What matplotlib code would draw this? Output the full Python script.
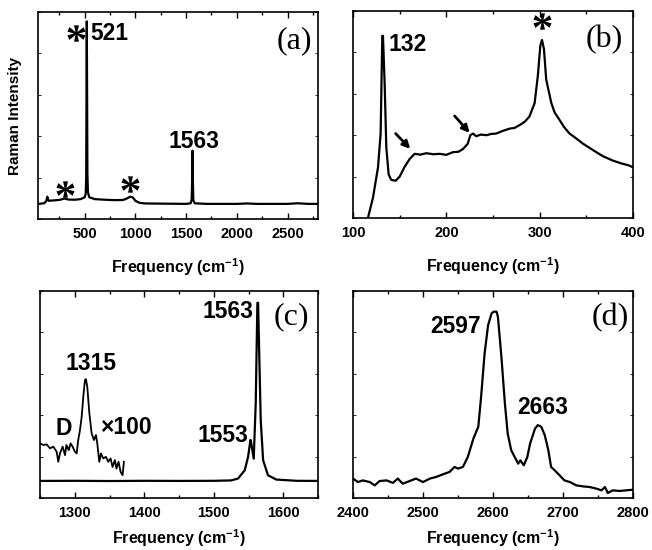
import matplotlib

matplotlib.use("Agg")
import matplotlib.pyplot as plt
from matplotlib.font_manager import FontProperties
from matplotlib.path import Path
from matplotlib.textpath import TextPath
from matplotlib.ticker import MultipleLocator, NullFormatter

plt.rcParams["font.family"] = ["Liberation Sans", "DejaVu Sans"]
plt.rcParams["font.weight"] = "bold"
plt.rcParams["axes.labelweight"] = "bold"
plt.rcParams["mathtext.fontset"] = "custom"
plt.rcParams["mathtext.rm"] = "Liberation Sans:bold"
plt.rcParams["mathtext.default"] = "rm"

# (a) full range spectrum, intensity in % of axis height
freq_a = [40, 100, 120, 132, 145, 200, 260, 300, 340, 400, 460, 500, 510, 515, 518,
          521, 524, 527, 532, 545, 600, 700, 800, 880, 920, 950, 975, 1000, 1040,
          1100, 1300, 1500, 1545, 1555, 1560, 1563, 1566, 1571, 1585, 1700, 2000,
          2100, 2200, 2500, 2600, 2700, 2800]
int_a = [7.3, 7.6, 8.5, 10.8, 8.8, 9.0, 9.3, 9.9, 9.4, 9.3, 9.6, 10.5, 12, 20, 60,
         95.5, 60, 22, 13, 10.5, 9.6, 9.3, 9.1, 9.2, 10.0, 10.8, 10.4, 8.8, 7.8,
         7.5, 7.4, 7.3, 7.6, 9.5, 20, 33, 20, 9, 7.6, 7.3, 7.3,
         7.5, 7.3, 7.3, 7.6, 7.3, 7.3]

# (b) low-frequency region
freq_b = [116, 121.4, 126.8, 129.6, 131.4, 132.1, 133.9, 135.7, 138.2, 141, 145.7,
          150, 155, 160.7, 166, 172, 178.6, 186, 193, 200, 207, 213, 218, 223, 225.7,
          228.6, 232, 237, 243, 248, 253.6, 260, 268, 273, 278.6, 284, 289, 294.6,
          298, 300.7, 302.5, 304.6, 307, 312.5, 316, 321.4, 326, 332, 339, 346.4,
          353, 360.7, 368, 378.6, 388, 395, 400]
int_b = [0, 9.8, 24.5, 40.8, 88, 88, 65, 34, 21, 18.4, 18, 20, 24.5, 28.5, 31,
         30.6, 31.3, 30.8, 31, 30.5, 31.8, 32, 33.4, 35.9, 40, 40.8, 39.5, 40.3, 40,
         40.6, 40.8, 42, 43.2, 43.5, 44.9, 46.5, 49, 55.5, 68.5, 83.2, 86, 81.6,
         66.9, 55.5, 51, 47.3, 44, 40.8, 38.5, 35.9, 34, 31.8, 29.8, 27.7, 26.3,
         25.5, 24.5]

# (c) G band and D band (x100)
freq_c = [1250, 1300, 1350, 1400, 1450, 1500, 1525, 1535, 1544.6, 1549.4, 1552.8,
          1553.2, 1557.5, 1560.4, 1562.8, 1563.8, 1565.2, 1567.6, 1571, 1578,
          1590, 1620, 1650]
int_c = [8.25, 8.3, 8.2, 8.3, 8.25, 8.3, 8.5, 9.4, 13.4, 19.9, 28, 28, 19, 45.8,
         94.3, 94.3, 73.3, 37.7, 18.3, 11, 8.9, 8.3, 8.25]
freq_d_band = [1250, 1254.8, 1259.6, 1264.4, 1269.2, 1274, 1276.3, 1278.7, 1282.6,
               1286, 1288, 1291.4, 1294, 1296.9, 1300.3, 1302.7, 1305, 1307.5,
               1310, 1312.3, 1314.7, 1316, 1318, 1321, 1324.3, 1327.6, 1330.5,
               1332.4, 1335.3, 1337.7, 1341, 1344.8, 1348.2, 1351.6, 1354.4,
               1357.8, 1360, 1363, 1366, 1368.8, 1370.7]
int_d_band = [26.4, 25.6, 25.9, 24, 24.8, 22.3, 17.5, 21.5, 24.8, 20.7, 25.6, 23.1,
              26.4, 24.8, 22.3, 21.5, 28, 32.8, 39.3, 49, 57, 57.4, 53.9, 41, 31.2,
              28, 30.4, 26.4, 17.5, 21.5, 19.1, 19.9, 17.5, 19.1, 15, 18.3, 14.2,
              17.5, 12.6, 11, 17.5]

# (d) 2D band region
freq_d = [2400, 2407, 2414, 2424, 2431, 2438, 2448, 2457, 2464, 2471, 2481, 2490,
          2500, 2510, 2519, 2529, 2538, 2545, 2550, 2557, 2564, 2572, 2579, 2583,
          2588, 2593, 2598, 2601, 2605, 2607, 2612, 2617, 2621, 2626, 2631, 2636,
          2639, 2644, 2649, 2653, 2660, 2664, 2669, 2674, 2679, 2683, 2688, 2695,
          2702, 2710, 2719, 2729, 2738, 2748, 2755, 2760, 2764, 2771, 2781, 2790,
          2800]
int_d = [9.4, 7.7, 8.5, 7.7, 6.1, 8.2, 8.5, 7.3, 9.4, 6.9, 8.2, 9.4, 7.7, 9.4,
         10.2, 11.5, 12.6, 15, 14.2, 15, 19.8, 28.7, 34.4, 48.9, 69.8, 83.5, 89.2,
         90, 90, 87.6, 68.2, 45.6, 31.1, 23.1, 19.8, 16.6, 18.2, 15.8, 19.8, 26.3,
         33.5, 35.2, 34.4, 30.3, 23.1, 15, 13.4, 11, 8.5, 7.7, 6.1, 5.6, 5.3, 4.5,
         3.7, 5.3, 2.4, 3.7, 3.4, 3.7, 4]


def star_path():
    # asterisk glyph outline, centred on its own ink box
    tp = TextPath((0, 0), "*", size=10,
                  prop=FontProperties(family="Liberation Serif", weight="bold"))
    ext = tp.get_extents()
    v = tp.vertices.copy()
    v[:, 0] -= (ext.x0 + ext.x1) / 2
    v[:, 1] -= (ext.y0 + ext.y1) / 2
    v[tp.codes == Path.CLOSEPOLY] = 0
    return Path(v, tp.codes)


STAR = star_path()
PEAK_FS = 16.5
LW = 1.6


def style(ax, xlim, major, minor, panel, pxy, label_y):
    ax.set_xlim(*xlim)
    ax.set_ylim(0, 100)
    ax.xaxis.set_major_locator(MultipleLocator(major))
    ax.xaxis.set_minor_locator(MultipleLocator(minor))
    ax.yaxis.set_major_locator(MultipleLocator(20))
    ax.yaxis.set_major_formatter(NullFormatter())
    ax.tick_params(axis="x", which="both", direction="in", top=True,
                   labelsize=10.5, pad=6)
    ax.tick_params(axis="x", which="major", length=4, width=1)
    ax.tick_params(axis="x", which="minor", length=2.5, width=1)
    ax.tick_params(axis="y", direction="in", right=True, length=2, width=0.6)
    for s in ax.spines.values():
        s.set_linewidth(1.2)
    ax.set_xlabel("Frequency (cm$^{-1}$)", fontsize=11.5, fontweight="bold")
    ax.xaxis.set_label_coords(0.5, label_y)
    ax.text(pxy[0], pxy[1], panel, transform=ax.transAxes, ha="center", va="center",
            fontsize=23, family="Liberation Serif", fontweight="normal")


fig = plt.figure(figsize=(6.52, 5.5), dpi=100)
W, H = 280 / 652, 207 / 550
ax_a = fig.add_axes([38 / 652, 1 - 219 / 550, W, H])
ax_b = fig.add_axes([353 / 652, 1 - 218 / 550, W, H])
ax_c = fig.add_axes([40 / 652, 1 - 498 / 550, 278 / 652, H])
ax_d = fig.add_axes([353 / 652, 1 - 498 / 550, W, H])

# (a)
ax_a.plot(freq_a, int_a, color="k", lw=LW)
style(ax_a, (40, 2800), 500, 250, "(a)", (0.914, 0.86), -0.18)
ax_a.set_ylabel("Raman Intensity", fontsize=11, fontweight="bold", labelpad=8)
ax_a.plot([418, 310, 949], [89.8, 14.4, 16.8], ls="none", marker=STAR, ms=13,
          color="k", mew=0)
ax_a.text(556, 89.8, "521", fontsize=PEAK_FS, ha="left", va="center")
ax_a.text(1582, 37.4, "1563", fontsize=PEAK_FS, ha="center", va="center")

# (b)
ax_b.plot(freq_b, int_b, color="k", lw=LW)
style(ax_b, (100, 400), 100, 50, "(b)", (0.896, 0.863), -0.18)
ax_b.text(137.5, 84, "132", fontsize=PEAK_FS, ha="left", va="center")
ax_b.plot([302.5], [95], ls="none", marker=STAR, ms=13, color="k", mew=0)
for tail, head in [((145.7, 40.8), (161.4, 33.4)), ((208.9, 49.3), (225, 41.1))]:
    ax_b.annotate("", xy=head, xytext=tail,
                  arrowprops=dict(arrowstyle="-|>", lw=2, color="k",
                                  mutation_scale=11, shrinkA=0, shrinkB=0))

# (c)
ax_c.plot(freq_c, int_c, color="k", lw=LW)
ax_c.plot(freq_d_band, int_d_band, color="k", lw=1.3)
style(ax_c, (1250, 1650), 100, 50, "(c)", (0.905, 0.874), -0.14)
ax_c.text(1322.8, 64.9, "1315", fontsize=PEAK_FS, ha="center", va="center")
ax_c.text(1283.5, 33.7, "D", fontsize=PEAK_FS, ha="center", va="center")
ax_c.text(1336, 34.1, "\u00d7100", fontsize=PEAK_FS, ha="left", va="center")
ax_c.text(1549.4, 30.1, "1553", fontsize=PEAK_FS, ha="right", va="center")
ax_c.text(1556.6, 90, "1563", fontsize=PEAK_FS, ha="right", va="center")

# (d)
ax_d.plot(freq_d, int_d, color="k", lw=LW)
style(ax_d, (2400, 2800), 100, 50, "(d)", (0.918, 0.872), -0.14)
ax_d.text(2583, 82.7, "2597", fontsize=PEAK_FS, ha="right", va="center")
ax_d.text(2671, 43.7, "2663", fontsize=PEAK_FS, ha="center", va="center")

fig.savefig("out.png", dpi=100)
